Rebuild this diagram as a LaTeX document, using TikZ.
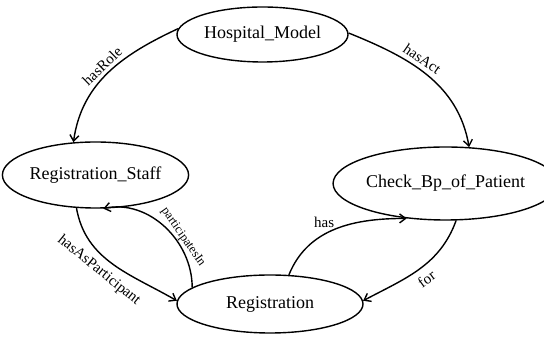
\documentclass[tikz,border=0pt]{standalone}
\usepackage{fontspec}
\setmainfont{Liberation Serif}
\usepackage{tikz}
\usetikzlibrary{arrows.meta, shapes.geometric}

\begin{document}
\begin{tikzpicture}[
    x=1pt, y=1pt,
    concept/.style={ellipse, draw, line width=1.4pt, inner sep=0pt, font=\fontsize{18}{20}\selectfont},
    rel/.style={-{Straight Barb[length=6pt, width=9pt]}, line width=1.4pt},
    lbl/.style={font=\fontsize{15}{17}\selectfont, inner sep=2pt},
    smalllbl/.style={font=\fontsize{12.5}{14}\selectfont, inner sep=2pt}
]
\useasboundingbox (0,0) rectangle (544,339);

% Concepts
\node[concept, minimum width=171, minimum height=55] (hospital) at (262.5,304.5) {Hospital\_Model};
\node[concept, minimum width=175, minimum height=66] (staff) at (95.5,164) {Registration\_Staff};
\node[concept, minimum width=195, minimum height=73] (check) at (445.5,155.5) {Check\_Bp\_of\_Patient};
\node[concept, minimum width=186, minimum height=58] (reg) at (270,35) {Registration};

% Relations from the model
\draw[rel] (hospital.176) to[out=205, in=82]
    node[lbl, pos=0.5, above, sloped, inner sep=3pt] {hasRole} (staff.124);
\draw[rel] (hospital.1) to[out=-22, in=100]
    node[lbl, pos=0.42, above, sloped, inner sep=4pt] {hasAct} (check.57);

% Staff and registration
\draw[rel] (staff.240) to[out=-80, in=150]
    node[lbl, pos=0.45, below, sloped, inner sep=6pt] {hasAsParticipant} (reg.178);
\draw[rel] (reg.168) to[out=90, in=12]
    node[smalllbl, pos=0.36, above, sloped, inner sep=1pt] {participatesIn} (staff.283);

% Registration and check
\draw[rel] (reg.57) to[out=68, in=180]
    node[lbl, pos=0.5, above left, inner sep=1pt] {has} (check.222);
\draw[rel] (check.286) to[out=-110, in=28]
    node[lbl, pos=0.5, below, sloped, inner sep=6pt] {for} (reg.2);

\end{tikzpicture}
\end{document}
